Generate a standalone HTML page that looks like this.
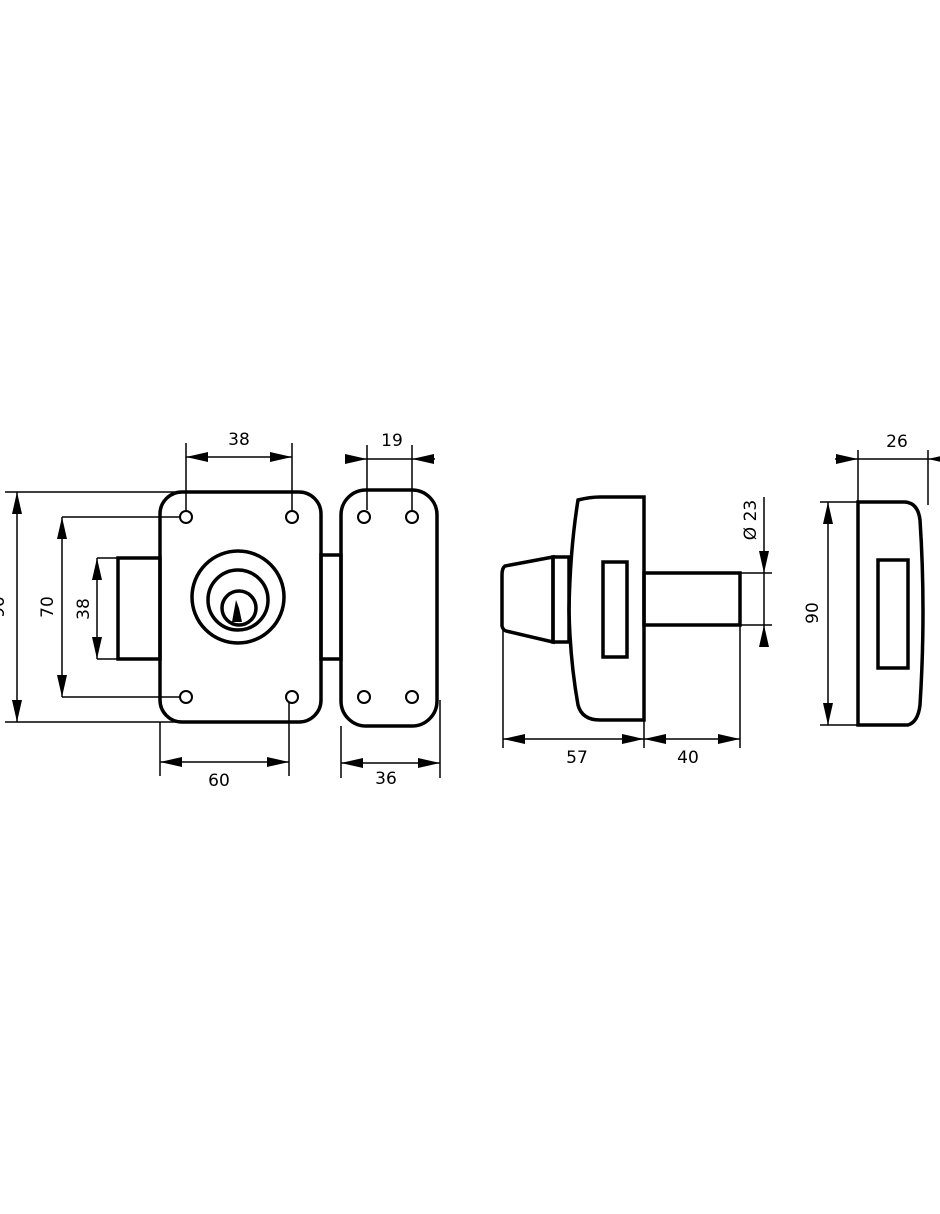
<!DOCTYPE html>
<html><head><style>html,body{margin:0;padding:0;background:#fff;width:940px;height:1214px;overflow:hidden}</style></head>
<body>
<svg width="940" height="1214" viewBox="0 0 940 1214" xmlns="http://www.w3.org/2000/svg" font-family="'DejaVu Sans','Liberation Sans',sans-serif" font-size="17">
<defs>
<marker id="a" viewBox="0 0 10 10" refX="10" refY="5" markerWidth="22" markerHeight="10" markerUnits="userSpaceOnUse" preserveAspectRatio="none" orient="auto-start-reverse"><path d="M0,0L10,5L0,10z" fill="#000"/></marker>
</defs>
<g fill="none" stroke="#000" stroke-width="3.5">
<rect x="160" y="492" width="161" height="230" rx="22"/>
<rect x="118" y="558" width="42" height="101"/>
<rect x="321" y="555" width="20" height="104"/>
<rect x="341" y="490" width="96" height="236" rx="25"/>
<circle cx="238" cy="597" r="46"/>
<circle cx="238" cy="600" r="30"/>
<circle cx="239" cy="608" r="17"/>
<path d="M578,500 Q590,497 600,497 L644,497 L644,720 L600,720 Q582,720 578,705 Q570,660 569,610 Q570,550 578,500z"/>
<rect x="603" y="562" width="24" height="95"/>
<path d="M553,557 L505,566 Q502,568 502,575 L502,626 Q503,630 506,631 L553,642z"/>
<rect x="553" y="557" width="16" height="85"/>
<rect x="644" y="573" width="96" height="52"/>
<path d="M858,502 L858,725 L908,725 Q918,722 920,705 Q926,610 920,520 Q918,503 905,502z"/>
<rect x="878" y="560" width="30" height="108"/>
</g>
<path d="M236,600 l-4,22 h10 l-3,-14 z" fill="#000"/>
<g fill="#fff" stroke="#000" stroke-width="2">
<circle cx="186" cy="517" r="6"/><circle cx="292" cy="517" r="6"/><circle cx="186" cy="697" r="6"/><circle cx="292" cy="697" r="6"/>
<circle cx="364" cy="517" r="6"/><circle cx="412" cy="517" r="6"/><circle cx="364" cy="697" r="6"/><circle cx="412" cy="697" r="6"/>
</g>
<g stroke="#000" stroke-width="1.5" fill="none">
<path d="M186,443V510M292,443V510M367,445V510M412,445V510"/>
<path d="M5,492H175M5,722H178M62,517H180M62,697H180M97,558H118M97,659H118"/>
<path d="M160,722V776M289,703V776M341,726V778M440,700V778"/>
<path d="M503,630V748M740,625V748M644,720V748M740,573H772M740,625H772"/>
<path d="M820,502H858M820,725H858M858,450V502M928,450V505"/>
<path d="M186,457H292" marker-start="url(#a)" marker-end="url(#a)"/>
<path d="M345,459H367" marker-end="url(#a)"/><path d="M435,459H412" marker-end="url(#a)"/><path d="M367,459H412"/>
<path d="M17,492V722" marker-start="url(#a)" marker-end="url(#a)"/>
<path d="M62,517V697" marker-start="url(#a)" marker-end="url(#a)"/>
<path d="M97,558V659" marker-start="url(#a)" marker-end="url(#a)"/>
<path d="M160,762H289" marker-start="url(#a)" marker-end="url(#a)"/>
<path d="M341,763H440" marker-start="url(#a)" marker-end="url(#a)"/>
<path d="M503,739H644" marker-start="url(#a)" marker-end="url(#a)"/>
<path d="M644,739H740" marker-start="url(#a)" marker-end="url(#a)"/>
<path d="M764,497V573" marker-end="url(#a)"/><path d="M764,647V625" marker-end="url(#a)"/><path d="M764,573V625"/>
<path d="M828,502V725" marker-start="url(#a)" marker-end="url(#a)"/>
<path d="M835,459H858" marker-end="url(#a)"/><path d="M858,459H928"/><path d="M950,459H928" marker-end="url(#a)"/>
</g>
<g fill="#000" text-anchor="middle">
<text x="239" y="445">38</text>
<text x="392" y="446">19</text>
<text x="897" y="447">26</text>
<text x="219" y="786">60</text>
<text x="386" y="784">36</text>
<text x="577" y="763">57</text>
<text x="688" y="763">40</text>
<text transform="translate(53,607) rotate(-90)">70</text>
<text transform="translate(89,609) rotate(-90)">38</text>
<text transform="translate(818,613) rotate(-90)">90</text>
<text transform="translate(756,520) rotate(-90)">Ø 23</text>
<text transform="translate(4,607) rotate(-90)">90</text>
</g>
</svg>
</body></html>
